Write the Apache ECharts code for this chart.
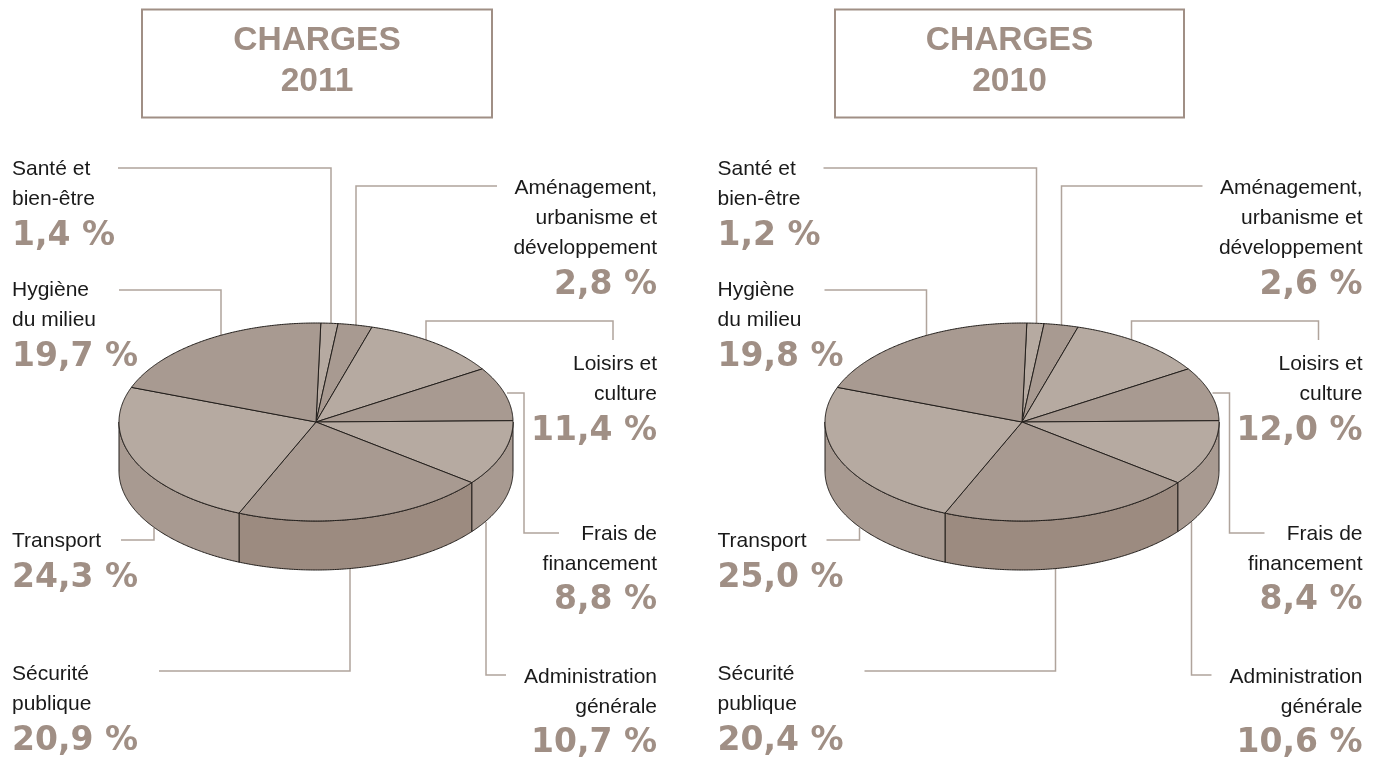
<!DOCTYPE html>
<html>
<head>
<meta charset="utf-8">
<title>Charges 2011 / 2010</title>
<style>
  html, body { margin: 0; padding: 0; background: #fff; }
  #chart { width: 1380px; height: 761px; }
</style>
<script src="https://cdn.jsdelivr.net/npm/echarts@6/dist/echarts.min.js"></script>
</head>
<body>
<div id="chart"></div>
<script>
// clockwise from the top of the pie
const categories = [
  ['Santé et', 'bien-être'],
  ['Aménagement,', 'urbanisme et', 'développement'],
  ['Loisirs et', 'culture'],
  ['Frais de', 'financement'],
  ['Administration', 'générale'],
  ['Sécurité', 'publique'],
  ['Transport'],
  ['Hygiène', 'du milieu']
]
const values2011 = [1.4, 2.8, 11.4, 8.8, 10.7, 20.9, 24.3, 19.7]
const values2010 = [1.2, 2.6, 12.0, 8.4, 10.6, 20.4, 25.0, 19.8]
// the 2010 pie in the source is the 2011 drawing with new labels, so its slices use the 2011 shares
const slices2010 = values2011

const titleColor = '#a08f85'
const lineColor = '#b0a49c'
const edgeColor = '#231f1c'
const topColors = ['#b6aaa1', '#a89a91']
const sideColors = ['#a89a91', '#9c8b80', '#a89a91']

const START_DEG = 1.4
const RX = 197
const RY = 99
const DEPTH = 49
const CY = 422
const FONT = '"Liberation Sans", Arial, sans-serif'

// label anchors: x side, y of first line centre, y of the value
const labelPos = [
  { side: 'l', y: 169, vy: 236 },
  { side: 'r', y: 188, vy: 285 },
  { side: 'r', y: 364, vy: 431 },
  { side: 'r', y: 534, vy: 600 },
  { side: 'r', y: 677, vy: 743 },
  { side: 'l', y: 674, vy: 741 },
  { side: 'l', y: 541, vy: 578 },
  { side: 'l', y: 290, vy: 357 }
]
// leader lines, relative to the left panel
const leaders = [
  [[118, 168], [331, 168], [331, 326]],
  [[497, 186], [356, 186], [356, 328]],
  [[613, 340], [613, 321], [426, 321], [426, 340]],
  [[507, 393], [524, 393], [524, 533], [559, 533]],
  [[486, 522], [486, 675], [506, 675]],
  [[350, 566], [350, 671], [159, 671]],
  [[121, 540], [154, 540], [154, 528]],
  [[119, 290], [221, 290], [221, 336]]
]

const panels = [
  { title: '2011', values: values2011, slices: values2011, dx: 0, cx: 316, boxX: 142, boxW: 350 },
  { title: '2010', values: values2010, slices: slices2010, dx: 705.5, cx: 1022, boxX: 835, boxW: 349 }
]

function pt(cx, deg, drop) {
  const a = deg * Math.PI / 180
  return [cx + RX * Math.sin(a), CY - RY * Math.cos(a) + (drop || 0)]
}

function arc(cx, from, to, drop) {
  const pts = []
  const n = Math.max(2, Math.ceil((to - from) * 2))
  for (let i = 0; i <= n; i++) pts.push(pt(cx, from + (to - from) * i / n, drop))
  return pts
}

function sliceAngles(slices) {
  const total = slices.reduce((a, b) => a + b, 0)
  let acc = START_DEG
  return slices.map(v => {
    const from = acc
    acc += v / total * 360
    return [from, acc]
  })
}

function topSeries(panel) {
  const angles = sliceAngles(panel.slices)
  return {
    type: 'custom',
    coordinateSystem: 'none',
    silent: true,
    z: 3,
    data: panel.slices.map((v, i) => [i, v]),
    renderItem: (params, api) => {
      const i = api.value(0)
      const [from, to] = angles[i]
      return {
        type: 'polygon',
        shape: { points: [[panel.cx, CY]].concat(arc(panel.cx, from, to)) },
        style: { fill: topColors[i % 2], stroke: edgeColor, lineWidth: 1, lineJoin: 'round' }
      }
    }
  }
}

function sideSeries(panel) {
  const angles = sliceAngles(panel.slices)
  let front = 0
  return {
    type: 'custom',
    coordinateSystem: 'none',
    silent: true,
    z: 2,
    data: panel.slices.map((v, i) => [i, v]),
    renderItem: (params, api) => {
      const i = api.value(0)
      const from = Math.max(angles[i][0], 90)
      const to = Math.min(angles[i][1], 270)
      if (to <= from) return null
      if (params.dataIndexInside === 0) front = 0
      const color = sideColors[Math.min(i - 4, 2)]
      front++
      return {
        type: 'polygon',
        shape: { points: arc(panel.cx, from, to).concat(arc(panel.cx, from, to, DEPTH).reverse()) },
        style: { fill: color, stroke: edgeColor, lineWidth: 1, lineJoin: 'round' }
      }
    }
  }
}

function fmt(v) {
  return v.toFixed(1).replace('.', ',') + ' %'
}

function panelGraphics(panel) {
  const out = []
  out.push({
    type: 'rect',
    shape: { x: panel.boxX, y: 9.5, width: panel.boxW, height: 108 },
    style: { fill: 'none', stroke: titleColor, lineWidth: 2 }
  })
  const titleX = panel.boxX + panel.boxW / 2
  ;['CHARGES', panel.title].forEach((t, i) => {
    out.push({
      type: 'text',
      style: {
        x: titleX, y: 41 + i * 41, text: t, align: 'center', verticalAlign: 'middle',
        fill: titleColor, font: 'bold 33.5px ' + FONT
      }
    })
  })
  leaders.forEach(pts => {
    out.push({
      type: 'polyline',
      z: -1,
      shape: { points: pts.map(p => [p[0] + panel.dx, p[1]]) },
      style: { fill: 'none', stroke: lineColor, lineWidth: 1.5 }
    })
  })
  categories.forEach((lines, i) => {
    const pos = labelPos[i]
    const x = (pos.side === 'l' ? 12 : 657) + panel.dx
    const align = pos.side === 'l' ? 'left' : 'right'
    lines.forEach((t, k) => {
      out.push({
        type: 'text',
        style: {
          x: x, y: pos.y + k * 30, text: t, align: align, verticalAlign: 'middle',
          fill: '#1a1a1a', font: '21px ' + FONT
        }
      })
    })
    out.push({
      type: 'text',
      style: {
        x: x, y: pos.vy, text: fmt(panel.values[i]), align: align, verticalAlign: 'middle',
        fill: titleColor, font: 'bold 33px "DejaVu Sans", sans-serif'
      }
    })
  })
  return out
}

const chart = echarts.init(document.getElementById('chart'))
chart.setOption({
  backgroundColor: '#fff',
  animation: false,
  graphic: { elements: panels.flatMap(panelGraphics) },
  series: panels.flatMap(p => [sideSeries(p), topSeries(p)])
})
</script>
</body>
</html>
